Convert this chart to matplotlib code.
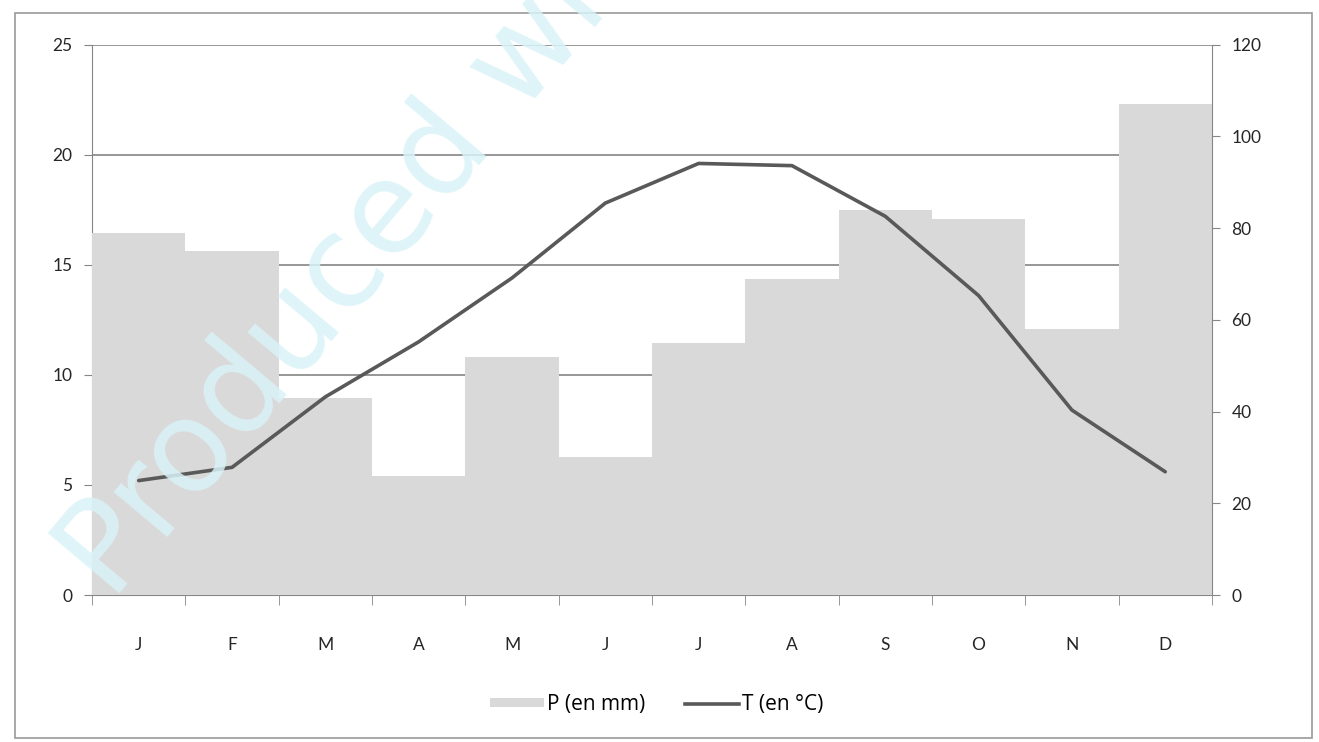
import numpy as np
import matplotlib
matplotlib.use("Agg")
import matplotlib.pyplot as plt
from matplotlib.patches import Rectangle
from matplotlib.lines import Line2D
from matplotlib.patches import Patch

plt.rcParams['font.family'] = ['Lato', 'DejaVu Sans']

# data
months = ['J', 'F', 'M', 'A', 'M', 'J', 'J', 'A', 'S', 'O', 'N', 'D']
precip = [79, 75, 43, 26, 52, 30, 55, 69, 84, 82, 58, 107]          # P (en mm)
temp = [5.2, 5.8, 9.0, 11.5, 14.4, 17.8, 19.6, 19.5, 17.2, 13.6, 8.4, 5.6]  # T (en °C)

bar_col = '#d9d9d9'
line_col = '#595959'
axis_col = '#868686'

fig = plt.figure(figsize=(13.19, 7.42), dpi=100)
fig.patch.set_facecolor('white')

# frame around the chart
fig.add_artist(Rectangle((0.011, 0.006), 0.984, 0.977, transform=fig.transFigure,
                         fill=False, edgecolor='#9a9a9a', linewidth=1.2))

ax = fig.add_axes([0.0698, 0.198, 0.849, 0.742])
ax.patch.set_visible(False)
x = np.arange(len(months))

# grid on the T axis, under the bars
ax.set_ylim(0, 25)
ax.set_yticks(np.arange(0, 26, 5))
ax.yaxis.grid(True, color='#7a7a7a', linewidth=1.1)
ax.set_axisbelow(True)
ax.set_xlim(-0.5, 11.5)

# bars on the right axis
axp = ax.twinx()
axp.bar(x, precip, width=1.0, color=bar_col, edgecolor='none')
axp.set_ylim(0, 120)
axp.set_yticks(np.arange(0, 121, 20))

# line on a third axis sharing the T scale
axt = ax.twinx()
axt.plot(x, temp, color=line_col, linewidth=2.6, solid_capstyle='round')
axt.set_ylim(0, 25)
axt.axis('off')

# watermark on top of the chart
fig.text(0.028, 0.165, 'Produced with', rotation=50, fontsize=92,
         color='#d9f3f7', alpha=0.85, family='DejaVu Sans',
         ha='left', va='bottom', zorder=10)

# axis look
for a in (ax, axp):
    for s in a.spines.values():
        s.set_visible(False)
ax.spines['left'].set_visible(True)
ax.spines['left'].set_color(axis_col)
ax.spines['bottom'].set_visible(True)
ax.spines['bottom'].set_color(axis_col)
axp.spines['right'].set_visible(True)
axp.spines['right'].set_color(axis_col)

ax.set_xticks(x)
ax.set_xticklabels(months)
ax.set_xticks(np.arange(-0.5, 12, 1), minor=True)
ax.tick_params(axis='x', which='major', length=0, pad=30, labelsize=12.5,
               labelcolor='#262626')
ax.tick_params(axis='x', which='minor', length=7, color=axis_col)
ax.tick_params(axis='y', length=6, color=axis_col, labelsize=12.5,
               labelcolor='#262626', pad=8)
axp.tick_params(axis='y', length=6, color=axis_col, labelsize=12.5,
                labelcolor='#262626', pad=8)

handles = [Patch(facecolor=bar_col, edgecolor='none'),
           Line2D([0], [0], color=line_col, linewidth=2.6)]
fig.legend(handles, ['P (en mm)', 'T (en °C)'], loc='center',
           bbox_to_anchor=(0.498, 0.05), ncol=2, frameon=False,
           prop={'family': 'Open Sans', 'size': 15},
           handlelength=2.6, handleheight=0.3,
           columnspacing=1.9, handletextpad=0.15)

fig.savefig('out.png', dpi=100)
